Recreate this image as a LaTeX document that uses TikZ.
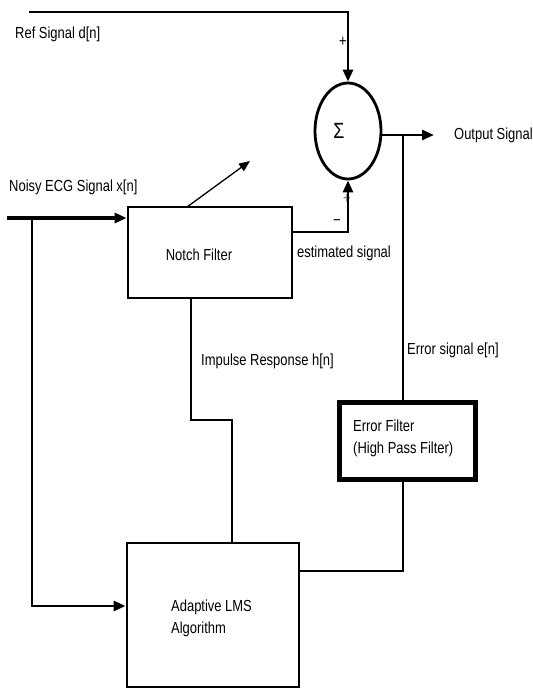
\documentclass[tikz,border=0pt]{standalone}
\usepackage{fontspec}
\setmainfont{Liberation Sans}[FakeStretch=0.81]
\usetikzlibrary{arrows.meta,shapes.geometric}
\begin{document}
\begin{tikzpicture}[x=1pt,y=-1pt,
  wire/.style={line width=2.8pt},
  thinwire/.style={line width=1.3pt},
  tip/.style={-{Triangle[length=12pt,width=10pt]}},
  smalltip/.style={-{Triangle[length=11pt,width=9pt]}},
  blk/.style={draw,line width=2.8pt,rectangle,inner sep=0pt},
  lbl/.style={inner sep=0pt,font=\fontsize{16}{21}\selectfont,anchor=west},
  sgn/.style={inner sep=0pt,font=\fontsize{16}{16}\selectfont}]
\useasboundingbox (0,0) rectangle (533,689);
% blocks
\node[blk,minimum width=164pt,minimum height=91pt] (notch) at (210,252.5) {};
\node[blk,minimum width=172pt,minimum height=144pt] (lms) at (213,615) {};
\node[blk,line width=5pt,minimum width=136pt,minimum height=77pt] (errf) at (407,440.5) {};
\node[draw,ellipse,line width=2.8pt,minimum width=66pt,minimum height=96pt,inner sep=0pt] (sum) at (348,131) {};
% texts in blocks
\node[lbl,anchor=center] (notcht) at (199,255) {Notch Filter};
\node[lbl,anchor=north west,align=left,font=\fontsize{16}{22}\selectfont] (lmst) at (171,600) {Adaptive LMS\\Algorithm};
\node[lbl,anchor=north west,align=left,font=\fontsize{16}{22}\selectfont] (errft) at (353,420) {Error Filter\\(High Pass Filter)};
\node[inner sep=0pt,font=\fontsize{22}{22}\selectfont] (sigma) at (339,131) {Σ};
% labels
\node[lbl] (refl) at (15,34) {Ref Signal d[n]};
\node[lbl] (outl) at (454,135) {Output Signal};
\node[lbl] (noisyl) at (9,187) {Noisy ECG Signal x[n]};
\node[lbl] (estl) at (297,253) {estimated signal};
\node[lbl] (impl) at (201,361) {Impulse Response h[n]};
\node[lbl] (errl) at (407,350) {Error signal e[n]};
\node[sgn] (plus1) at (343,42) {+};
\node[sgn] (minus1) at (337,223) {−};
\node[sgn,text=black!55] (plus2) at (347,199) {+};
% coordinates
\coordinate (refstart) at (29,12);
\coordinate (inpstart) at (7,218);
\coordinate (branch) at (32,218);
\coordinate (outend) at (434,135);
\coordinate (tap) at (403,135);
\coordinate (diag0) at (187,207);
\coordinate (diag1) at (250,161);
% connectors
\draw[wire,tip] (refstart) -- (348,12) -- (sum.north);
\draw[line width=3.8pt,tip] (inpstart) -- (notch.west |- inpstart);
\draw[wire,tip] (branch) |- (lms.west |- 0,606);
\draw[wire,tip] (notch.east |- 0,232) -| (sum.south);
\draw[wire,tip] (sum.east |- 0,135) -- (outend);
\draw[wire] (tap) -- (tap |- errf.north);
\draw[wire] (tap |- errf.south) |- (lms.east |- 0,571);
\draw[wire] (notch.south -| 191,0) |- (232,420) -- (lms.north -| 232,0);
\draw[thinwire,smalltip] (diag0) -- (diag1);
\end{tikzpicture}
\end{document}
